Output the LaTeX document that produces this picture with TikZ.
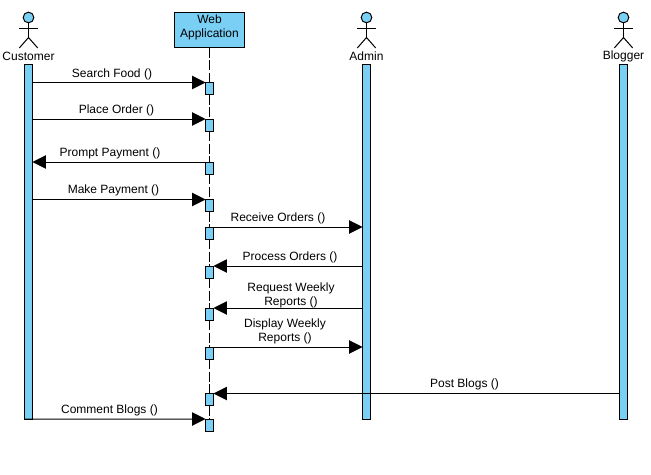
\documentclass[tikz,border=0pt]{standalone}
\usepackage{fontspec}
\setmainfont{Liberation Sans}
\usetikzlibrary{arrows.meta}
\definecolor{fillblue}{HTML}{7ACFF5}
\tikzset{
  every node/.style={font=\fontsize{9pt}{10.5pt}\selectfont, inner sep=0pt, outer sep=0pt},
  lnw/.style={line width=0.75pt},
  webbox/.style={draw=black, lnw, fill=fillblue, minimum width=52.5pt, minimum height=26.25pt},
  lifebar/.style={draw=black, lnw, fill=fillblue, minimum width=6pt, minimum height=265.9pt},
  activation/.style={draw=black, lnw, fill=fillblue, minimum width=6pt, minimum height=9pt},
  msg/.style={draw=black, lnw, -{Triangle[length=10pt,width=10pt]}},
  msglabel/.style={align=center},
  lifeline/.style={draw=black, lnw, dash pattern=on 7.5pt off 2pt},
  actorhead/.style={circle, draw=black, lnw, fill=fillblue, minimum size=8pt},
  actorline/.style={draw=black, lnw}
}
\newcommand{\actorfig}[3]{%
  \node[actorhead] (#2head) at (#1,17.5) {};
  \coordinate (#2hip) at (#1,37.5);
  \coordinate (#2ll) at (#1-9.2,48);
  \coordinate (#2lr) at (#1+9.2,48);
  \coordinate (#2al) at (#1-9.2,28.3);
  \coordinate (#2ar) at (#1+9.2,28.3);
  \draw[actorline] (#2head.south) -- (#2hip);
  \draw[actorline] (#2al) -- (#2ar);
  \draw[actorline] (#2ll) -- (#2hip) -- (#2lr);
  \node (#2label) at (#1,56.2) {#3};
}
\begin{document}
\begin{tikzpicture}[x=0.75pt,y=-0.75pt]
\useasboundingbox[fill=white] (0,0) rectangle (651,475);
\actorfig{28.5}{cust}{Customer}
\actorfig{366.5}{admin}{Admin}
\actorfig{623.5}{blog}{Blogger}
\node[webbox] (web) at (209.5,30) {};
\node[msglabel] (webtext) at (209.5,27.3) {Web\\Application};
\node[lifebar] (custbar) at (28.5,241.75) {};
\node[lifebar] (adminbar) at (366.5,241.75) {};
\node[lifebar] (blogbar) at (623.5,241.75) {};
\node[activation] (a1) at (209.5,88.5) {};
\node[activation] (a2) at (209.5,125) {};
\node[activation] (a3) at (209.5,168) {};
\node[activation] (a4) at (209.5,205.5) {};
\node[activation] (a5) at (209.5,233) {};
\node[activation] (a6) at (209.5,272) {};
\node[activation] (a7) at (209.5,314) {};
\node[activation] (a8) at (209.5,353) {};
\node[activation] (a9) at (209.5,399.5) {};
\node[activation] (a10) at (209.5,425) {};
\draw[lifeline] (web.south) -- (a1.north);
\draw[lifeline] (a1.south) -- (a2.north);
\draw[lifeline] (a2.south) -- (a3.north);
\draw[lifeline] (a3.south) -- (a4.north);
\draw[lifeline] (a4.south) -- (a5.north);
\draw[lifeline] (a5.south) -- (a6.north);
\draw[lifeline] (a6.south) -- (a7.north);
\draw[lifeline] (a7.south) -- (a8.north);
\draw[lifeline] (a8.south) -- (a9.north);
\draw[lifeline] (a9.south) -- (a10.north);
\draw[msg] (custbar.center |- a1.north) ++(3,0) -- (a1.north west);
\draw[msg] (custbar.center |- a2.north) ++(3,0) -- (a2.north west);
\draw[msg] (a3.north) -- (custbar.east |- a3.north);
\draw[msg] (custbar.center |- a4.north) ++(3,0) -- (a4.north west);
\draw[msg] (a5.north east) -- (adminbar.west |- a5.north);
\draw[msg] (adminbar.west |- a6.north) -- (a6.north east);
\draw[msg] (adminbar.west |- a7.north) -- (a7.north east);
\draw[msg] (a8.north east) -- (adminbar.west |- a8.north);
\draw[msg] (blogbar.west |- a9.north) -- (a9.north east);
\draw[msg] (custbar.south west) -- (a10.north west);
\node[msglabel] (l1) at (112,74) {Search Food ()};
\node[msglabel] (l2) at (116.5,110.5) {Place Order ()};
\node[msglabel] (l3) at (110,153.5) {Prompt Payment ()};
\node[msglabel] (l4) at (113.5,190.5) {Make Payment ()};
\node[msglabel] (l5) at (278,218.5) {Receive Orders ()};
\node[msglabel] (l6) at (290,257.5) {Process Orders ()};
\node[msglabel] (l7) at (291,295) {Request Weekly\\Reports ()};
\node[msglabel] (l8) at (285,331.8) {Display Weekly\\Reports ()};
\node[msglabel] (l9) at (464.5,384.5) {Post Blogs ()};
\node[msglabel] (l10) at (109.5,410.5) {Comment Blogs ()};
\end{tikzpicture}
\end{document}
